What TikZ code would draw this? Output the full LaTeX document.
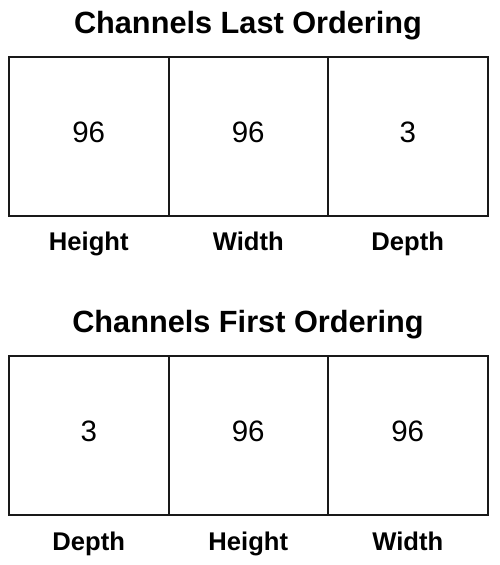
\documentclass[tikz,border=0pt]{standalone}
\usepackage{fontspec}
\setmainfont{Liberation Sans}
\begin{document}
\begin{tikzpicture}[x=1pt,y=-1pt,
 cell/.style={draw=black!90, line width=2pt, minimum width=159.5pt, minimum height=159pt, inner sep=0pt, outer sep=0pt, font=\fontsize{29.5}{34}\selectfont, text depth=8pt},
 ttl/.style={font=\fontsize{30.7}{36}\selectfont\bfseries, anchor=base, inner sep=0pt},
 lab/.style={font=\fontsize{25.6}{30}\selectfont\bfseries, anchor=base, inner sep=0pt}]
\useasboundingbox (0,0) rectangle (500,565);
% top
\node[ttl] (t1) at (248,33) {Channels Last Ordering};
\node[cell] (a1) at (88.75,136.5) {96};
\node[cell] (a2) at (248.25,136.5) {96};
\node[cell] (a3) at (407.75,136.5) {3};
\node[lab] (la1) at (88.75,250) {Height};
\node[lab] (la2) at (248.25,250) {Width};
\node[lab] (la3) at (407.75,250) {Depth};
% bottom
\node[ttl] (t2) at (248,332) {Channels First Ordering};
\node[cell] (b1) at (88.75,435.5) {3};
\node[cell] (b2) at (248.25,435.5) {96};
\node[cell] (b3) at (407.75,435.5) {96};
\node[lab] (lb1) at (88.75,550) {Depth};
\node[lab] (lb2) at (248.25,550) {Height};
\node[lab] (lb3) at (407.75,550) {Width};
\end{tikzpicture}
\end{document}
